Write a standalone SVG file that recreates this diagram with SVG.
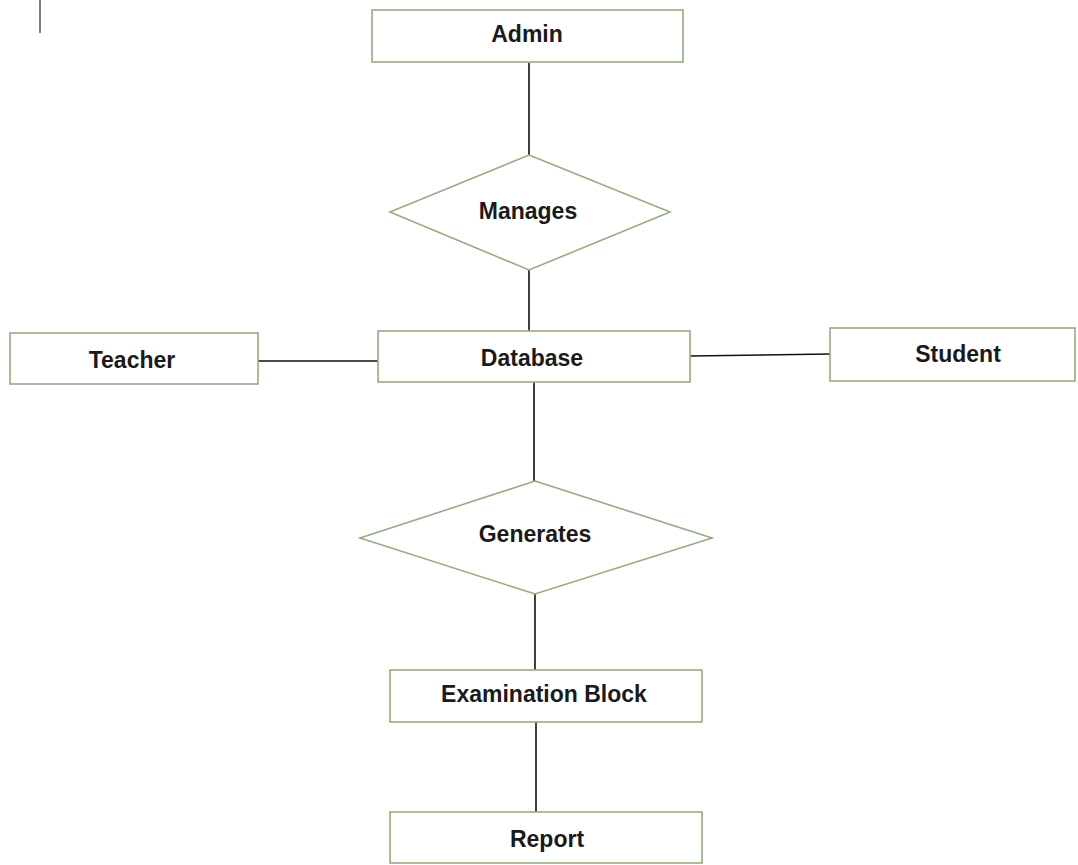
<svg xmlns="http://www.w3.org/2000/svg" width="1078" height="865" viewBox="0 0 1078 865">
<style>
.box{fill:#fff;stroke:#94ad82;stroke-width:1.6}
.lbl{font-family:"Liberation Sans",Arial,sans-serif;font-weight:bold;font-size:23px;fill:#1a1a1a;text-anchor:middle}
.ln{stroke:#111;stroke-width:1.6;fill:none}
</style>
<rect width="1078" height="865" fill="#fff"/>
<line x1="40" y1="0" x2="40" y2="33" stroke="#555" stroke-width="1.5"/>
<g id="connectors">
<line class="ln" x1="529" y1="63" x2="529" y2="155"/>
<line class="ln" x1="529" y1="270" x2="529" y2="333"/>
<line class="ln" x1="258" y1="361" x2="378" y2="361"/>
<line class="ln" x1="690" y1="356" x2="830" y2="354"/>
<line class="ln" x1="534" y1="382" x2="534" y2="481"/>
<line class="ln" x1="535" y1="594" x2="535" y2="670"/>
<line class="ln" x1="536" y1="722" x2="536" y2="812"/>
</g>
<g id="admin"><rect class="box" x="372" y="10" width="311" height="52"/><text class="lbl" x="527" y="42">Admin</text></g>
<g id="manages"><polygon class="box" points="529,155 670,212 529,270 390,212"/><text class="lbl" x="528" y="219">Manages</text></g>
<g id="teacher"><rect class="box" x="10" y="333" width="248" height="51"/><text class="lbl" x="132" y="368">Teacher</text></g>
<g id="database"><rect class="box" x="378" y="331" width="312" height="51"/><text class="lbl" x="532" y="366">Database</text></g>
<g id="student"><rect class="box" x="830" y="328" width="245" height="53"/><text class="lbl" x="958" y="362">Student</text></g>
<g id="generates"><polygon class="box" points="535,481 712,538 535,594 360,538"/><text class="lbl" x="535" y="542">Generates</text></g>
<g id="exam"><rect class="box" x="390" y="670" width="312" height="52"/><text class="lbl" x="544" y="702">Examination Block</text></g>
<g id="report"><rect class="box" x="390" y="812" width="312" height="51"/><text class="lbl" x="547" y="847">Report</text></g>
</svg>
